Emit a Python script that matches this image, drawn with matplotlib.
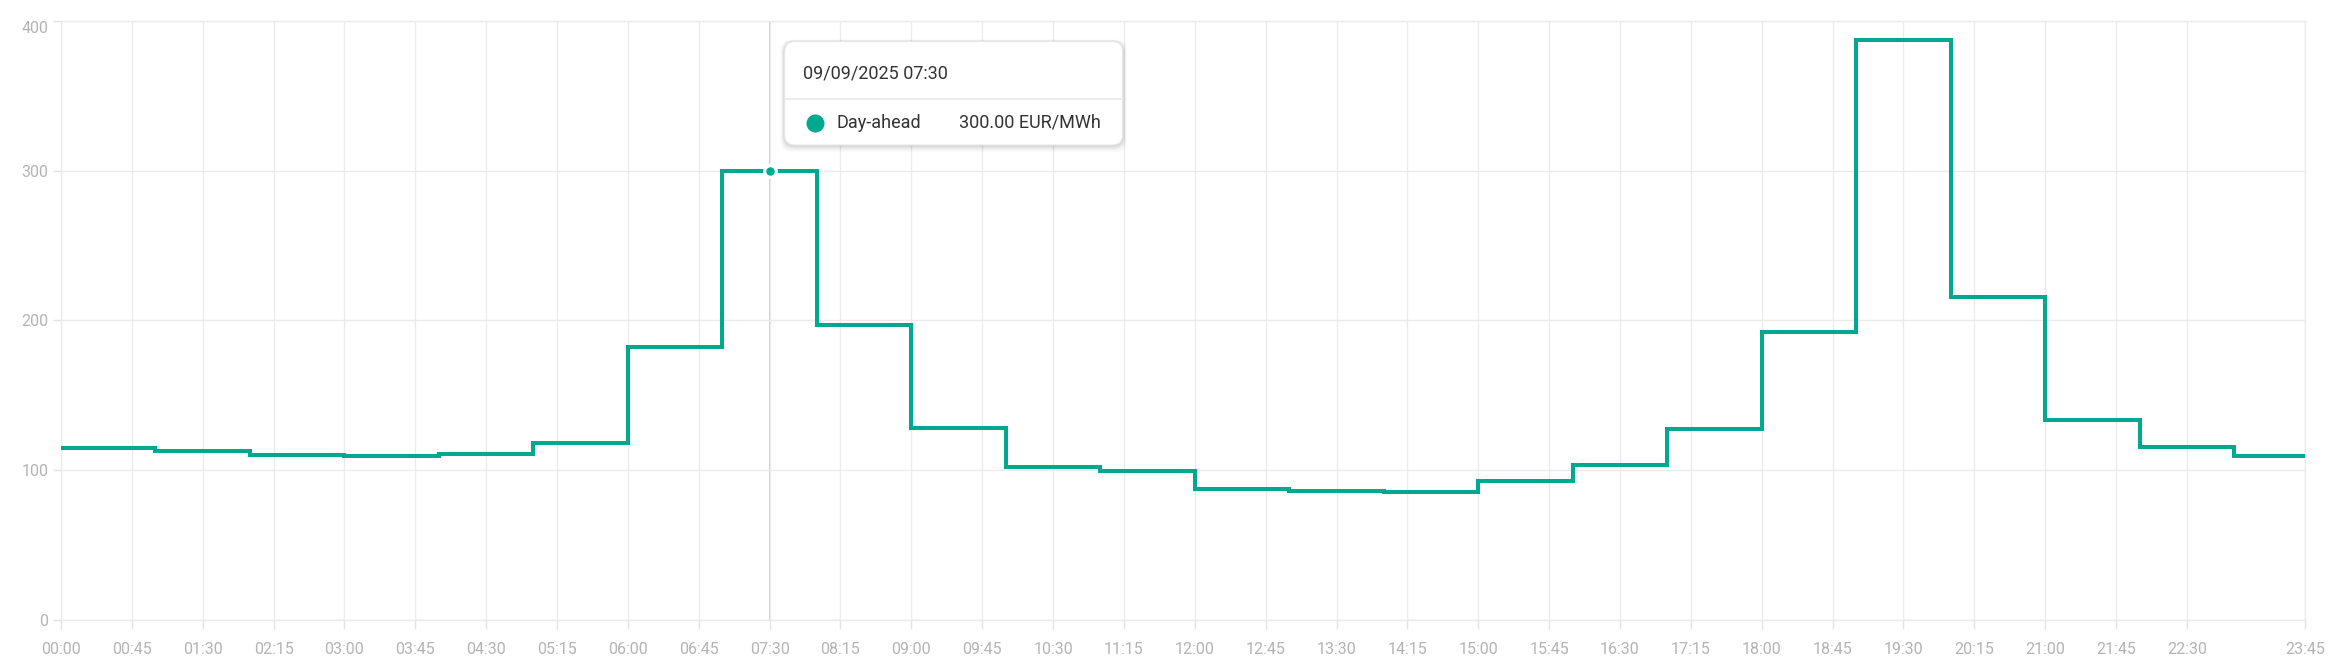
import numpy as np
import pandas as pd
import matplotlib
matplotlib.use("Agg")
import matplotlib.pyplot as plt
from matplotlib.patches import FancyBboxPatch
from matplotlib.lines import Line2D

plt.rcParams['font.family'] = ['Roboto', 'DejaVu Sans']

# ---- data ----
date_label = "09/09/2025"
series_name = "Day-ahead"
unit = "EUR/MWh"
# quarter-hour time slots of the day
times = [f"{h:02d}:{m:02d}" for h in range(24) for m in (0, 15, 30, 45)]
# hourly day-ahead prices (EUR/MWh), one per hour, applied to its four quarter-hours
hourly_prices = [115.0, 112.5, 110.3, 109.7, 110.8, 118.2, 182.3, 300.0,
                 197.0, 127.9, 101.8, 99.5, 87.3, 85.9, 85.3, 92.7,
                 103.5, 127.3, 192.5, 387.0, 215.7, 133.2, 115.7, 109.4]
tick_labels = ["00:00", "00:45", "01:30", "02:15", "03:00", "03:45", "04:30", "05:15",
               "06:00", "06:45", "07:30", "08:15", "09:00", "09:45", "10:30", "11:15",
               "12:00", "12:45", "13:30", "14:15", "15:00", "15:45", "16:30", "17:15",
               "18:00", "18:45", "19:30", "20:15", "21:00", "21:45", "22:30", "23:45"]
y_ticks = [0, 100, 200, 300, 400]
hover_time = "07:30"

# ---- derived ----
quarter_prices = np.repeat(hourly_prices, 4)
x = np.arange(len(times))
tick_pos = [times.index(t) for t in tick_labels]
hover_idx = times.index(hover_time)

LINE = "#00a88f"
GRID = "#ebebeb"
TICKC = "#b4b4b4"

W, H, DPI = 2328, 667, 100
fig = plt.figure(figsize=(W / DPI, H / DPI), dpi=DPI)
ax = fig.add_axes([61 / W, 1 - 620 / H, (2305 - 61) / W, (620 - 20.7) / H])

ax.set_xlim(0, len(times) - 1)
ax.set_ylim(0, 400)
ax.set_xticks(tick_pos)
ax.set_xticklabels(tick_labels)
ax.set_yticks(y_ticks)
ax.set_yticklabels([str(v) for v in y_ticks])

ax.grid(True, color=GRID, lw=1.0, zorder=0)
for s in ax.spines.values():
    s.set_color(GRID)
    s.set_linewidth(1.0)
ax.tick_params(axis='x', length=6.5, width=1.0, color="#e3e3e3", labelcolor=TICKC,
               labelsize=11.5, pad=9)
ax.tick_params(axis='y', length=6, width=1.0, color="#e3e3e3", labelcolor=TICKC,
               labelsize=11.5, pad=3)
# top y label sits just below the top gridline (kept inside the chart)
ax.get_yticklabels()[-1].set_va('top')

# crosshair
ax.axvline(hover_idx, color="#c8c8c8", lw=1.3, zorder=1)

ax.step(x, quarter_prices, where='post', color=LINE, lw=2.9, zorder=3,
        solid_joinstyle='miter', solid_capstyle='butt')
ax.plot([hover_idx], [quarter_prices[hover_idx]], marker='o', ms=8.4, mfc=LINE,
        mec='white', mew=2.3, zorder=4, ls='none')

# ---- tooltip (positioned relative to the hovered point) ----
fig.canvas.draw()
px, py = ax.transData.transform((hover_idx, quarter_prices[hover_idx]))
py_top = H - py
bx0 = px + 15
bx1 = px + 353
by0 = py_top - 129   # top of box (from top)
by1 = py_top - 25.5  # bottom of box (from top)

def fx(v):
    return v / W

def fy(v):
    return 1 - v / H

# shadow
for off, a in [(7, 0.025), (5, 0.035), (3.5, 0.045), (2, 0.05)]:
    sh = FancyBboxPatch((fx(bx0 - off * 0.6), fy(by1 + off)),
                        fx(bx1 - bx0 + off * 1.2), (by1 - by0 + off * 1.3) / H,
                        boxstyle=f"round,pad=0,rounding_size={12 / W}",
                        transform=fig.transFigure, fc='black', ec='none', alpha=a,
                        zorder=9, mutation_aspect=W / H)
    fig.add_artist(sh)
box = FancyBboxPatch((fx(bx0), fy(by1)), fx(bx1 - bx0), (by1 - by0) / H,
                     boxstyle=f"round,pad=0,rounding_size={10 / W}",
                     transform=fig.transFigure, fc='white', ec='#e6e6e6', lw=0.8,
                     zorder=10, mutation_aspect=W / H)
fig.add_artist(box)
sep_y = by0 + 57.5
fig.add_artist(Line2D([fx(bx0 + 1), fx(bx1 - 1)], [fy(sep_y), fy(sep_y)],
                      transform=fig.transFigure, color='#ededed', lw=1.5, zorder=11))
fig.text(fx(bx0 + 18), fy(by0 + 31.5), f"{date_label} {hover_time}", ha='left', va='center',
         fontsize=13, color='#333333', zorder=12)
row_y = by0 + 81
fig.add_artist(Line2D([fx(bx0 + 30)], [fy(row_y)], transform=fig.transFigure,
                      marker='o', ms=13, mfc=LINE, mec='none', zorder=12))
fig.text(fx(bx0 + 52), fy(row_y), series_name, ha='left', va='center',
         fontsize=13, color='#333333', zorder=12)
fig.text(fx(bx0 + 316), fy(row_y),
         f"{quarter_prices[hover_idx]:.2f} {unit}", ha='right', va='center',
         fontsize=13, color='#333333', zorder=12)

fig.savefig("out.png", dpi=DPI, facecolor='white')
